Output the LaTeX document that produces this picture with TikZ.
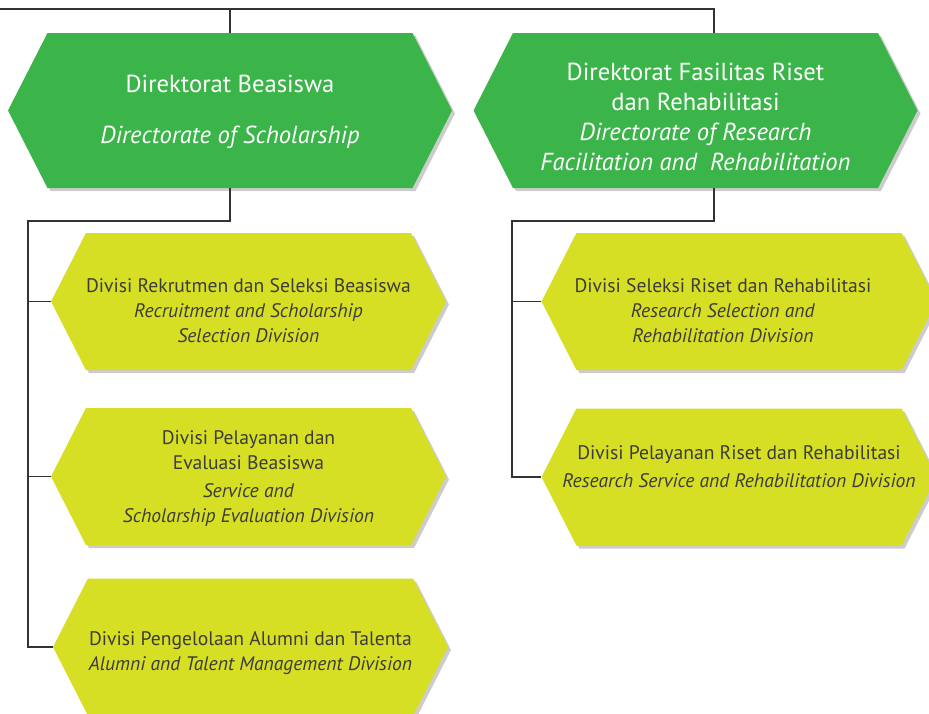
\documentclass[tikz,border=0pt]{standalone}
\usepackage{fontspec}
\setmainfont{PT Sans}
\usetikzlibrary{shapes.symbols,shadows}
\definecolor{leaf}{HTML}{3BB54A}
\definecolor{pear}{HTML}{D6DF23}
\definecolor{ink}{HTML}{3C3C3B}
\definecolor{wire}{HTML}{333333}
\begin{document}
\begin{tikzpicture}[x=1pt,y=-1pt,
  hexa/.style={signal,signal to=west and east,signal pointer angle=126,inner sep=0pt,
    drop shadow={shadow xshift=3pt,shadow yshift=-3pt,opacity=0.2,fill=black}},
  dirbox/.style={hexa,fill=leaf,minimum width=444pt,minimum height=155pt},
  divbox/.style={hexa,fill=pear,minimum width=395pt,minimum height=137pt},
  dirtext/.style={text=white,align=center,font=\fontsize{24.6}{30}\selectfont},
  divtext/.style={text=ink,align=center,font=\fontsize{19.6}{25}\selectfont},
  conn/.style={draw=wire,line width=1.2pt}]
\useasboundingbox (0,0) rectangle (929,713);
% directorates
\node[dirbox] (dirA) at (230,110.5) {};
\node[dirbox] (dirB) at (695.5,110.5) {};
\node[dirtext,yshift=-1pt] (dirAtxt) at (dirA) {Direktorat Beasiswa\\[21pt]\textit{Directorate of Scholarship}};
\node[dirtext,yshift=-6pt] (dirBtxt) at (dirB) {Direktorat Fasilitas Riset\\dan Rehabilitasi\\
  \textit{Directorate of Research}\\\textit{Facilitation and\ \ Rehabilitation}};
% divisions
\node[divbox] (divA1) at (248.5,301.5) {};
\node[divbox] (divA2) at (248.5,476.5) {};
\node[divbox] (divA3) at (250.5,647) {};
\node[divbox] (divB1) at (739,301.5) {};
\node[divbox] (divB2) at (739,477) {};
\node[divtext,yshift=-9pt] (divA1txt) at (divA1) {Divisi Rekrutmen dan Seleksi Beasiswa\\
  \textit{Recruitment and Scholarship}\\\textit{Selection Division}};
\node[divtext,yshift=-2pt] (divA2txt) at (divA2) {Divisi Pelayanan dan\\Evaluasi Beasiswa\\[3pt]
  \textit{Service and}\\\textit{Scholarship Evaluation Division}};
\node[divtext,yshift=-6pt] (divA3txt) at (divA3) {Divisi Pengelolaan Alumni dan Talenta\\
  \textit{Alumni and Talent Management Division}};
\node[divtext,xshift=-16pt,yshift=-9pt] (divB1txt) at (divB1) {Divisi Seleksi Riset dan Rehabilitasi\\
  \textit{Research Selection and}\\\textit{Rehabilitation Division}};
\node[divtext,yshift=10pt] (divB2txt) at (divB2) {Divisi Pelayanan Riset dan Rehabilitasi\\[3pt]
  \textit{Research Service and Rehabilitation Division}};
% connectors
\coordinate (busL) at (0,9);
\coordinate (spineA) at (28,221);
\coordinate (spineB) at (512,221);
\draw[conn] (busL) -| ([xshift=18.5pt]dirB.north);
\draw[conn] (dirA.north) -- (dirA.north |- busL);
\draw[conn] (dirA.south) |- (spineA) |- (divA3.west);
\draw[conn] (spineA |- divA1.west) -- (divA1.west);
\draw[conn] (spineA |- divA2.west) -- (divA2.west);
\draw[conn] ([xshift=18.5pt]dirB.south) |- (spineB) |- (divB2.west);
\draw[conn] (spineB |- divB1.west) -- (divB1.west);
\end{tikzpicture}
\end{document}
